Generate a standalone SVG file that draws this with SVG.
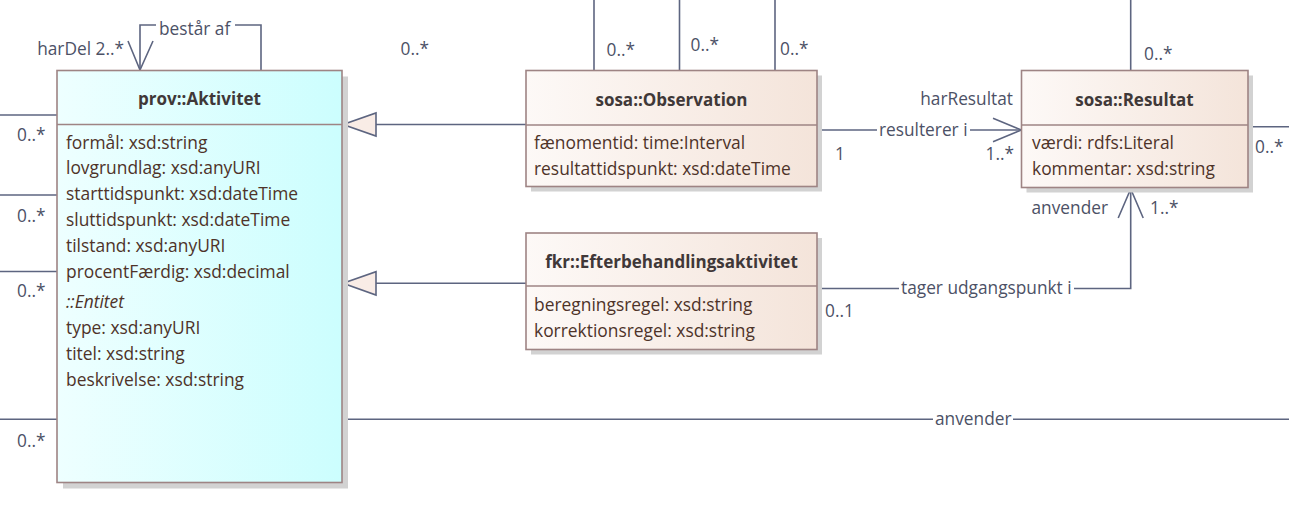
<svg xmlns="http://www.w3.org/2000/svg" width="1289" height="509" viewBox="0 0 1289 509">
<defs>
<linearGradient id="gCyan" x1="0" y1="0" x2="1" y2="0">
<stop offset="0" stop-color="#eeffff"/>
<stop offset="1" stop-color="#ccfefe"/>
</linearGradient>
<linearGradient id="gPeach" x1="0" y1="0" x2="1" y2="0">
<stop offset="0" stop-color="#fdf9f7"/>
<stop offset="1" stop-color="#f4e4da"/>
</linearGradient>
<style>
.box{stroke:#9e8484;stroke-width:1.6}
.shadow{fill:#d2d2d2}
.sep{stroke:#9e8484;stroke-width:1.6;fill:none}
.title{font-family:"Open Sans","Noto Sans",sans-serif;font-size:17px;font-weight:bold;fill:#403838;text-anchor:middle}
.attr{font-family:"Open Sans","Noto Sans",sans-serif;font-size:17.4px;fill:#4e3329}
.ital{font-style:italic}
.lbl{font-family:"Open Sans","Noto Sans",sans-serif;font-size:17.3px;fill:#4c5166}
.ln{stroke:#5d6580;stroke-width:1.6;fill:none}
.tri{stroke:#5d6580;stroke-width:1.6;fill:#f9ece6}
.end{text-anchor:end}
</style>
</defs>
<rect width="1289" height="509" fill="#ffffff"/>

<g id="connectors">
<!-- self loop on Aktivitet -->
<polyline class="ln" points="140,70 140,25 156,25"/>
<polyline class="ln" points="235,25 261,25 261,70"/>
<polyline class="ln" points="128,41 140,70 153,41"/>
<text class="lbl" x="159" y="35">består af</text>
<text class="lbl end" x="124" y="54.5">harDel 2..*</text>
<!-- left side stubs -->
<line class="ln" x1="0" y1="115" x2="57" y2="115"/>
<text class="lbl" x="17" y="140.5">0..*</text>
<line class="ln" x1="0" y1="195" x2="57" y2="195"/>
<text class="lbl" x="17" y="222">0..*</text>
<line class="ln" x1="0" y1="271.5" x2="57" y2="271.5"/>
<text class="lbl" x="17" y="297">0..*</text>
<line class="ln" x1="0" y1="419.3" x2="57" y2="419.3"/>
<text class="lbl" x="17" y="447">0..*</text>
<!-- lone multiplicity -->
<text class="lbl" x="400.5" y="55">0..*</text>
<!-- Observation generalization -->
<line class="ln" x1="376" y1="124.5" x2="526" y2="124.5"/>
<polygon class="tri" points="343,124.5 376,113 376,136"/>
<!-- Efterbehandling generalization -->
<line class="ln" x1="376" y1="283.3" x2="526" y2="283.3"/>
<polygon class="tri" points="343,283.3 376,271.7 376,295"/>
<!-- Observation top stubs -->
<line class="ln" x1="594" y1="0" x2="594" y2="70.5"/>
<text class="lbl" x="606.5" y="55.5">0..*</text>
<line class="ln" x1="679.5" y1="0" x2="679.5" y2="70.5"/>
<text class="lbl" x="690.5" y="51">0..*</text>
<line class="ln" x1="775" y1="0" x2="775" y2="70.5"/>
<text class="lbl" x="780" y="55">0..*</text>
<!-- resulterer i -->
<line class="ln" x1="817" y1="130" x2="877" y2="130"/>
<line class="ln" x1="970" y1="130" x2="1021.5" y2="130"/>
<polyline class="ln" points="993,118.3 1021.5,130 993,141.7"/>
<text class="lbl" x="879" y="135.5">resulterer i</text>
<text class="lbl" x="835" y="160">1</text>
<text class="lbl end" x="1013" y="104.5">harResultat</text>
<text class="lbl end" x="1014" y="160">1..*</text>
<!-- Resultat top -->
<line class="ln" x1="1130.7" y1="0" x2="1130.7" y2="70.5"/>
<text class="lbl" x="1144" y="60">0..*</text>
<!-- Resultat right -->
<line class="ln" x1="1248" y1="126.7" x2="1289" y2="126.7"/>
<text class="lbl" x="1255" y="153">0..*</text>
<!-- tager udgangspunkt i -->
<line class="ln" x1="817" y1="288.5" x2="899" y2="288.5"/>
<polyline class="ln" points="1074,288.5 1130.7,288.5 1130.7,189"/>
<polyline class="ln" points="1118.2,218 1130.7,189 1143.2,218"/>
<text class="lbl" x="901" y="293.5">tager udgangspunkt i</text>
<text class="lbl" x="825" y="317">0..1</text>
<text class="lbl end" x="1108" y="213.5">anvender</text>
<text class="lbl" x="1150" y="213.5">1..*</text>
<!-- bottom anvender -->
<line class="ln" x1="342" y1="419.3" x2="933" y2="419.3"/>
<line class="ln" x1="1013" y1="419.3" x2="1289" y2="419.3"/>
<text class="lbl" x="935" y="424.5">anvender</text>
</g>

<g id="aktivitet">
<rect class="shadow" x="63" y="76.5" width="285" height="412"/>
<rect class="box" x="57" y="70.5" width="285" height="412" fill="url(#gCyan)"/>
<line class="sep" x1="57" y1="124.5" x2="342" y2="124.5"/>
<text class="title" x="199.5" y="105">prov::Aktivitet</text>
<text class="attr" x="66" y="148.5">formål: xsd:string</text>
<text class="attr" x="66" y="174.3">lovgrundlag: xsd:anyURI</text>
<text class="attr" x="66" y="200.1">starttidspunkt: xsd:dateTime</text>
<text class="attr" x="66" y="225.9">sluttidspunkt: xsd:dateTime</text>
<text class="attr" x="66" y="251.7">tilstand: xsd:anyURI</text>
<text class="attr" x="66" y="277.5">procentFærdig: xsd:decimal</text>
<text class="attr ital" x="66" y="308.3">::Entitet</text>
<text class="attr" x="66" y="334.1">type: xsd:anyURI</text>
<text class="attr" x="66" y="359.9">titel: xsd:string</text>
<text class="attr" x="66" y="385.7">beskrivelse: xsd:string</text>
</g>

<g id="observation">
<rect class="shadow" x="531" y="75.5" width="291" height="116"/>
<rect class="box" x="526" y="70.5" width="291" height="116" fill="url(#gPeach)"/>
<line class="sep" x1="526" y1="125" x2="817" y2="125"/>
<text class="title" x="671.5" y="105.5">sosa::Observation</text>
<text class="attr" x="534" y="148.5">fænomentid: time:Interval</text>
<text class="attr" x="534" y="174.5">resultattidspunkt: xsd:dateTime</text>
</g>

<g id="resultat">
<rect class="shadow" x="1026.5" y="75.5" width="226.5" height="117"/>
<rect class="box" x="1021.5" y="70.5" width="226.5" height="117" fill="url(#gPeach)"/>
<line class="sep" x1="1021.5" y1="125" x2="1248" y2="125"/>
<text class="title" x="1134.5" y="105.5">sosa::Resultat</text>
<text class="attr" x="1032" y="148.5">værdi: rdfs:Literal</text>
<text class="attr" x="1032" y="174.5">kommentar: xsd:string</text>
</g>

<g id="efterbehandlingsaktivitet">
<rect class="shadow" x="531" y="238" width="291" height="116.5"/>
<rect class="box" x="526" y="233" width="291" height="116.5" fill="url(#gPeach)"/>
<line class="sep" x1="526" y1="286" x2="817" y2="286"/>
<text class="title" x="671.5" y="268">fkr::Efterbehandlingsaktivitet</text>
<text class="attr" x="534" y="311">beregningsregel: xsd:string</text>
<text class="attr" x="534" y="336.5">korrektionsregel: xsd:string</text>
</g>
</svg>
